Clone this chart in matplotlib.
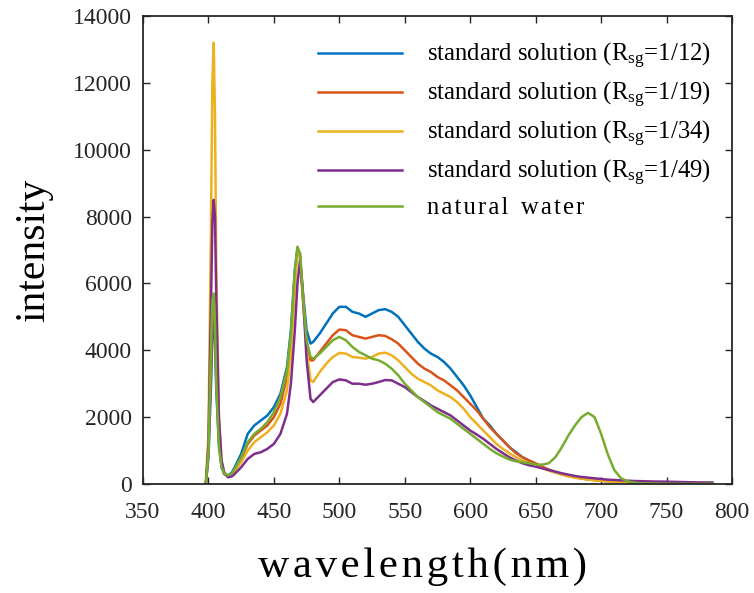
import matplotlib
matplotlib.use("Agg")
import matplotlib.pyplot as plt

# ── data ───────────────────────────────────────────────────────────────────────
wavelength = [398, 400, 402, 403, 404, 405, 406, 408, 410, 412, 415, 418, 420,
              425, 430, 435, 440, 445, 450, 455, 460, 463, 466, 468, 470, 472,
              475, 478, 480, 485, 490, 495, 500, 505, 510, 515, 520, 525, 530,
              535, 540, 545, 550, 555, 560, 565, 570, 575, 580, 585, 590, 595,
              600, 605, 610, 615, 620, 625, 630, 635, 640, 645, 650, 655, 660,
              665, 670, 675, 680, 685, 690, 695, 700, 705, 710, 715, 720, 725,
              730, 740, 750, 760, 770, 785]

std_1_12 = [0, 800, 3000, 4500, 5000, 4200, 2800, 1200, 500, 300, 250, 350, 500,
            900, 1500, 1750, 1900, 2050, 2300, 2700, 3500, 4600, 6400, 7050, 6800,
            5800, 4600, 4200, 4250, 4500, 4800, 5100, 5300, 5300, 5150, 5100, 5000,
            5100, 5200, 5230, 5150, 5000, 4750, 4500, 4250, 4050, 3900, 3800, 3650,
            3450, 3200, 2950, 2650, 2300, 1950, 1750, 1500, 1300, 1100, 950, 800,
            700, 600, 500, 420, 350, 290, 240, 200, 170, 140, 120, 100, 90, 80, 70,
            60, 55, 50, 45, 40, 35, 30, 30]

std_1_19 = [0, 900, 3500, 5000, 5600, 4800, 3200, 1300, 550, 300, 230, 300, 420,
            750, 1200, 1450, 1600, 1750, 2000, 2400, 3200, 4300, 6200, 7000, 6800,
            5600, 4200, 3700, 3700, 3950, 4200, 4450, 4620, 4600, 4450, 4400, 4350,
            4400, 4450, 4430, 4330, 4200, 4000, 3800, 3600, 3450, 3350, 3200, 3100,
            2950, 2800, 2600, 2400, 2200, 1950, 1700, 1500, 1300, 1100, 920, 800,
            700, 620, 520, 430, 360, 300, 250, 200, 170, 140, 120, 100, 85, 75, 65,
            60, 55, 50, 45, 40, 35, 30, 30]

std_1_34 = [0, 1500, 8000, 12000, 13200, 11000, 6500, 2000, 700, 350, 220, 280,
            380, 650, 1000, 1250, 1400, 1550, 1750, 2100, 2800, 3900, 5800, 6900,
            6900, 5800, 4000, 3100, 3050, 3350, 3600, 3800, 3920, 3900, 3800, 3780,
            3750, 3800, 3900, 3930, 3850, 3700, 3500, 3300, 3150, 3050, 2950, 2800,
            2700, 2600, 2450, 2250, 2000, 1800, 1600, 1400, 1200, 1050, 920, 800,
            700, 620, 550, 470, 400, 340, 280, 230, 190, 160, 130, 110, 95, 80, 70,
            60, 55, 50, 45, 40, 35, 30, 30, 25]

std_1_49 = [0, 1200, 5500, 7800, 8500, 8000, 5500, 2000, 700, 350, 200, 230, 300,
            500, 750, 900, 950, 1050, 1200, 1500, 2100, 3000, 4600, 6000, 6700,
            5800, 3700, 2550, 2450, 2650, 2850, 3050, 3130, 3100, 3000, 3000, 2970,
            3000, 3050, 3110, 3100, 3000, 2900, 2750, 2600, 2480, 2350, 2250, 2150,
            2050, 1900, 1750, 1600, 1480, 1350, 1200, 1050, 920, 800, 700, 620, 560,
            520, 470, 420, 370, 320, 280, 240, 210, 190, 170, 150, 130, 120, 110,
            100, 90, 85, 75, 70, 60, 50, 40]

natural_water = [0, 1000, 4200, 5500, 5700, 4800, 3000, 1100, 500, 320, 260, 320,
                 450, 800, 1250, 1500, 1650, 1850, 2150, 2600, 3400, 4500, 6400,
                 7100, 6900, 5700, 4300, 3800, 3750, 3900, 4100, 4300, 4400, 4300,
                 4100, 3950, 3850, 3750, 3700, 3600, 3450, 3250, 3000, 2800, 2600,
                 2450, 2300, 2150, 2050, 1950, 1800, 1650, 1500, 1350, 1200, 1050,
                 920, 820, 730, 680, 650, 620, 580, 580, 620, 800, 1100, 1450, 1750,
                 2000, 2130, 2000, 1500, 900, 420, 180, 80, 40, 20, 10, 5, 5, 5, 5]

SERIES = [
    (std_1_12, "#0072BD", "standard solution (R$_{\\mathrm{sg}}$=1/12)"),
    (std_1_19, "#D95319", "standard solution (R$_{\\mathrm{sg}}$=1/19)"),
    (std_1_34, "#EDB120", "standard solution (R$_{\\mathrm{sg}}$=1/34)"),
    (std_1_49, "#7E2F8E", "standard solution (R$_{\\mathrm{sg}}$=1/49)"),
    (natural_water, "#77AC30", "n\u200aa\u200at\u200au\u200ar\u200aa\u200al  w\u200aa\u200at\u200ae\u200ar"),
]

x_ticks = [350, 400, 450, 500, 550, 600, 650, 700, 750, 800]
y_ticks = [0, 2000, 4000, 6000, 8000, 10000, 12000, 14000]

# ── style ──────────────────────────────────────────────────────────────────────
plt.rcParams.update({
    "font.family": ["Liberation Serif", "DejaVu Serif"],
    "mathtext.fontset": "custom",
    "mathtext.rm": "Liberation Serif",
    "mathtext.it": "Liberation Serif:italic",
    "font.size": 17,
})

fig = plt.figure(figsize=(7.54, 5.93), dpi=100)
ax = fig.add_axes([143 / 754, 1 - 484 / 593, (732 - 143) / 754, (484 - 16) / 593])

for values, color, label in SERIES:
    ax.plot(wavelength, values, color=color, lw=1.8, label=label)

ax.set_xlim(350, 800)
ax.set_ylim(0, 14000)
ax.set_xticks(x_ticks)
ax.set_yticks(y_ticks)
ax.tick_params(direction="in", top=True, right=True, length=5, width=1,
               labelsize=17, colors="#262626")
ax.tick_params(axis="x", pad=13)
ax.tick_params(axis="y", pad=8)
for sp in ax.spines.values():
    sp.set_linewidth(1.3)
    sp.set_color("#262626")

ax.set_ylabel("intensity", fontsize=30, labelpad=14)
ax.set_xlabel("w\u200aa\u200av\u200ae\u200al\u200ae\u200an\u200ag\u200at\u200ah\u200a(\u200an\u200am\u200a)",
              fontsize=31, labelpad=14)
ax.xaxis.set_label_coords(0.474, -0.135)

ax.legend(loc="upper left", bbox_to_anchor=(318 / 754, 1 - 41 / 593),
          bbox_transform=fig.transFigure, frameon=False, fontsize=17.8,
          handlelength=3.4, handletextpad=1.0, labelspacing=0.36,
          borderpad=0, borderaxespad=0)

fig.savefig("out.png", dpi=100)
